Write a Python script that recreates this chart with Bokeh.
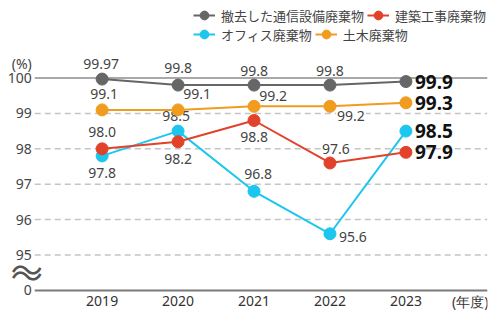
from bokeh.plotting import figure
from bokeh.models import ColumnDataSource, Legend, LegendItem
from bokeh.core.properties import value
from bokeh.embed import file_html
from bokeh.resources import INLINE

# ---------------- data ----------------
years = [2019, 2020, 2021, 2022, 2023]
series_names = ["撤去した通信設備廃棄物", "建築工事廃棄物", "オフィス廃棄物", "土木廃棄物"]
telecom = [99.97, 99.8, 99.8, 99.8, 99.9]
construction = [98.0, 98.2, 98.8, 97.6, 97.9]
office = [97.8, 98.5, 96.8, 95.6, 98.5]
civil = [99.1, 99.1, 99.2, 99.2, 99.3]
telecom_text = ["99.97", "99.8", "99.8", "99.8", "99.9"]
construction_text = ["98.0", "98.2", "98.8", "97.6", "97.9"]
office_text = ["97.8", "98.5", "96.8", "95.6", "98.5"]
civil_text = ["99.1", "99.1", "99.2", "99.2", "99.3"]
y_tick_values = [0, 95, 96, 97, 98, 99, 100]
x_tick_labels = ["2019", "2020", "2021", "2022", "2023"]
x_unit_label = "(年度)"
y_unit_label = "(%)"
break_mark = "〜"

# ---------------- styles ----------------
NUM_FONT = value("Noto Sans")
JP_FONT_NAME = "Noto Sans CJK JP"
JP_FONT = value(JP_FONT_NAME)
colors = {"telecom": "#666666", "construction": "#e2412a", "office": "#1cc6ef", "civil": "#f09c1e"}
ZERO_POS = 94          # axis break: the value 0 is shown one step below 95
PLOT_LEFT = 2018.113   # data x of the plotting area's left edge
PLOT_RIGHT = 2024.074
UNIT_X = 2023.846      # where "(年度)" sits
UNIT_Y = 100.42        # where "(%)" sits
BREAK_Y = 94.54

def ypos(v):
    return ZERO_POS if v == 0 else v

# per-label pixel offsets (dx, dy) for the first four points of each series
offsets = {
    "telecom": [(-1, -15), (0, -17), (0, -14), (0, -14)],
    "civil": [(2, -16), (19, -16), (19, -10), (21, 10)],
    "construction": [(0, -17), (0, 17), (0, 16), (6, -14)],
    "office": [(0, 17), (-2, -15), (4, -17), (23, 3)],
}

p = figure(width=500, height=328, output_backend="svg", toolbar_location=None,
           x_range=(2017.662, PLOT_RIGHT), y_range=(92.924, 102.19),
           x_axis_location=None, y_axis_location=None,
           min_border_left=0, min_border_right=13, min_border_top=0, min_border_bottom=0)
p.outline_line_color = None
p.background_fill_color = "white"
p.border_fill_color = "white"
p.xgrid.visible = False
p.ygrid.visible = False

# horizontal rules
grid_vals = [95, 96, 97, 98, 99]
p.segment(x0=[PLOT_LEFT] * len(grid_vals), x1=[PLOT_RIGHT] * len(grid_vals),
          y0=grid_vals, y1=grid_vals, line_color="#c4c4c4", line_width=1.5, line_dash="6 4")
p.segment(x0=[PLOT_LEFT], x1=[PLOT_RIGHT], y0=[100], y1=[100],
          line_color="#8c8c8c", line_width=1.5)
p.segment(x0=[PLOT_LEFT], x1=[PLOT_RIGHT], y0=[ZERO_POS], y1=[ZERO_POS],
          line_color="#7a7a7a", line_width=2)

# y tick labels
ylab_y = [ypos(v) for v in y_tick_values] + [UNIT_Y]
ylab_t = [str(v) for v in y_tick_values] + [y_unit_label]
p.text(x=[PLOT_LEFT] * len(ylab_y), y=ylab_y, text=ylab_t, x_offset=-3,
       text_align="right", text_baseline="middle", text_font=NUM_FONT,
       text_font_size="14px", text_color="#444444")
# x tick labels
p.text(x=years + [UNIT_X], y=[ZERO_POS] * 6, text=x_tick_labels + [x_unit_label],
       y_offset=11, text_align="center", text_baseline="middle", text_font=NUM_FONT,
       text_font_size="14px", text_color="#333333")
# axis break mark (two stacked waves)
p.text(x=[PLOT_LEFT, PLOT_LEFT], y=[BREAK_Y, BREAK_Y], text=[break_mark, break_mark],
       x_offset=-8, y_offset=[-3, 3], text_align="center", text_baseline="middle",
       text_font=JP_FONT, text_font_size="32px", text_color="#555555")

series = [
    ("office", office, office_text),
    ("construction", construction, construction_text),
    ("civil", civil, civil_text),
    ("telecom", telecom, telecom_text),
]

# value labels (drawn before lines so their white boxes only hide rules)
for key, vals, texts in series:
    src = ColumnDataSource(dict(
        x=years[:4], y=vals[:4], text=texts[:4],
        dx=[o[0] for o in offsets[key]], dy=[o[1] for o in offsets[key]]))
    p.text(x="x", y="y", text="text", x_offset="dx", y_offset="dy", source=src,
           text_align="center", text_baseline="middle", text_font=NUM_FONT,
           text_font_size="14px", text_color="#444444",
           background_fill_color="white", padding=1)

renderers = {}
for key, vals, texts in series:
    src = ColumnDataSource(dict(x=years, y=vals))
    ln = p.line("x", "y", source=src, line_color=colors[key], line_width=2)
    sc = p.scatter("x", "y", source=src, size=12, fill_color=colors[key],
                   line_color=colors[key])
    renderers[key] = [ln, sc]
    last = ColumnDataSource(dict(x=years[4:], y=vals[4:], text=texts[4:]))
    p.text(x="x", y="y", text="text", source=last, x_offset=9, y_offset=0,
           text_align="left", text_baseline="middle", text_font=NUM_FONT,
           text_font_size="19px", text_font_style="bold", text_color="#111111")

legend_style = dict(orientation="horizontal", padding=0, margin=0, spacing=3,
                    label_standoff=6, glyph_width=22, glyph_height=22,
                    label_text_font=JP_FONT_NAME, label_text_font_size="13px",
                    label_text_color="#444444", background_fill_alpha=0,
                    border_line_color=None)
legend1 = Legend(items=[
    LegendItem(label=series_names[0], renderers=renderers["telecom"]),
    LegendItem(label=series_names[1], renderers=renderers["construction"]),
], location=(193, 302), **legend_style)
legend2 = Legend(items=[
    LegendItem(label=series_names[2], renderers=renderers["office"]),
    LegendItem(label=series_names[3], renderers=renderers["civil"]),
], location=(193, 283), **legend_style)
p.add_layout(legend1)
p.add_layout(legend2)

open("out.html", "w").write(file_html(p, INLINE))
